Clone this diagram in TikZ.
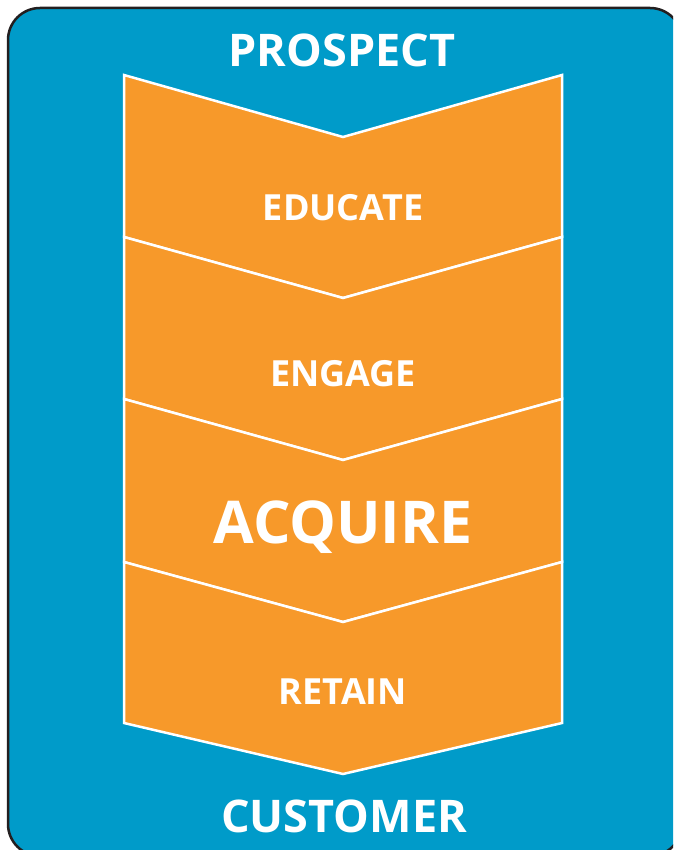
\documentclass[tikz,border=0pt]{standalone}
\usepackage{fontspec}
\setmainfont{Open Sans}
\definecolor{funnelblue}{RGB}{0,155,201}
\definecolor{funnelorange}{RGB}{247,153,42}
\definecolor{frameline}{RGB}{35,31,32}
\begin{document}
\begin{tikzpicture}[x=1pt,y=-1pt,
  stagebox/.style={fill=funnelorange, draw=white, line width=2.5pt, line join=miter},
  stagelabel/.style={text=white, font=\bfseries, anchor=base, inner sep=0pt}]
\useasboundingbox (0,0) rectangle (673,850);
% rounded panel, running off the right and bottom edges
\begin{scope}
  \clip (0,0) rectangle (673,850);
  \draw[fill=funnelblue, draw=frameline, line width=2.5pt, rounded corners=32pt]
    (8,8) rectangle (682,856);
\end{scope}
% funnel stages as stacked chevrons
\path[stagebox] (124,75) -- (343,137) -- (562,75) -- (562,237) -- (343,298) -- (124,237) -- cycle;
\path[stagebox] (124,237) -- (343,298) -- (562,237) -- (562,399) -- (343,460) -- (124,399) -- cycle;
\path[stagebox] (124,399) -- (343,460) -- (562,399) -- (562,562) -- (343,622) -- (124,562) -- cycle;
\path[stagebox] (124,562) -- (343,622) -- (562,562) -- (562,723) -- (343,774) -- (124,723) -- cycle;
% labels
\node[stagelabel, font=\bfseries\fontsize{45}{45}\selectfont] (prospect) at (342,67) {PROSPECT};
\node[stagelabel, font=\bfseries\fontsize{36}{36}\selectfont] (educate) at (343,220) {EDUCATE};
\node[stagelabel, font=\bfseries\fontsize{36}{36}\selectfont] (engage) at (343,386) {ENGAGE};
\node[stagelabel, font=\bfseries\fontsize{59}{59}\selectfont] (acquire) at (343,543) {ACQUIRE};
\node[stagelabel, font=\bfseries\fontsize{45}{45}\selectfont] (customer) at (344,832) {CUSTOMER};
\node[stagelabel, font=\bfseries\fontsize{36}{36}\selectfont] (retain) at (343,704) {RETAIN};
\end{tikzpicture}
\end{document}
